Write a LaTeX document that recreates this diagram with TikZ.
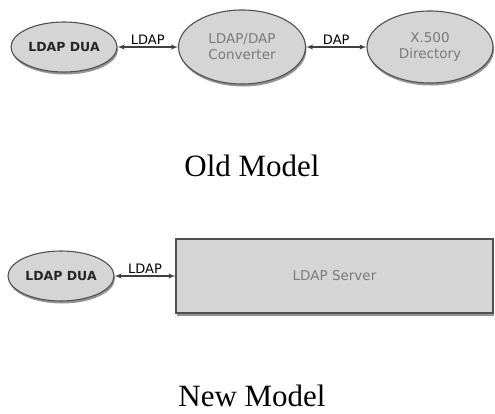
\documentclass[tikz,border=0pt]{standalone}
\usepackage{fontspec}
\setmainfont{Liberation Serif}
\setsansfont{DejaVu Sans}
\usepackage{xcolor}
\usetikzlibrary{shapes,arrows,shadows,positioning}
\definecolor{boxgray}{HTML}{D5D5D5}
\definecolor{rimgray}{HTML}{505050}
\definecolor{txtgray}{HTML}{7A7A7A}
\tikzset{softshadow/.style={drop shadow={shadow xshift=1pt,shadow yshift=-2.5pt,fill=black!70,opacity=.6}}}
\tikzset{link/.style={<->, line width=1.4pt, black!75}}
\tikzstyle{proc}=[ellipse, draw=rimgray, fill=boxgray, line width=1.1pt, softshadow, inner sep=0pt, text=txtgray, font=\sffamily\fontsize{13.5}{16}\selectfont]
\tikzstyle{dua}=[proc, minimum width=106pt, minimum height=50pt, text=black!85, font=\sffamily\bfseries\fontsize{12.5}{15}\selectfont]
\tikzstyle{srv}=[rectangle, draw=rimgray, fill=boxgray, line width=1.1pt, softshadow, text=txtgray, font=\sffamily\fontsize{13.5}{16}\selectfont]
\tikzstyle{lbl}=[font=\sffamily\fontsize{13}{15}\selectfont, inner sep=1.5pt, text=black]
\tikzstyle{modeltitle}=[font=\fontsize{31}{35}\selectfont]

\begin{document}
\begin{tikzpicture}[every text node part/.style={align=center},x=1pt,y=1pt,node distance=178pt,auto,>=latex']
      \useasboundingbox (0,0) rectangle (495,-413);
      % old model
      \node [dua] (dua1) at (64,-47) {LDAP DUA};
      \node [proc, minimum width=127pt, minimum height=74pt] (conv) [right of=dua1] {LDAP/DAP \\ Converter};
      \node [proc, minimum width=126pt, minimum height=72pt] (dir) [right of=conv, node distance=188pt] {X.500 \\ Directory};
      \node [modeltitle] (old) at (252,-166) {Old Model};
      \draw[link] (dua1) -- node [lbl] {LDAP} (conv);
      \draw[link] (conv) -- node [lbl] {DAP} (dir);

      % new model
      \node [dua] (dua2) at (61,-276) {LDAP DUA};
      \node [srv, minimum width=317pt, minimum height=74pt] (srv) [right of=dua2, node distance=273.5pt] {LDAP Server};
      \node [modeltitle] (new) at (252,-396) {New Model};
      \draw[link] (dua2) -- node [lbl] {LDAP} (srv);
    \end{tikzpicture}
\end{document}
